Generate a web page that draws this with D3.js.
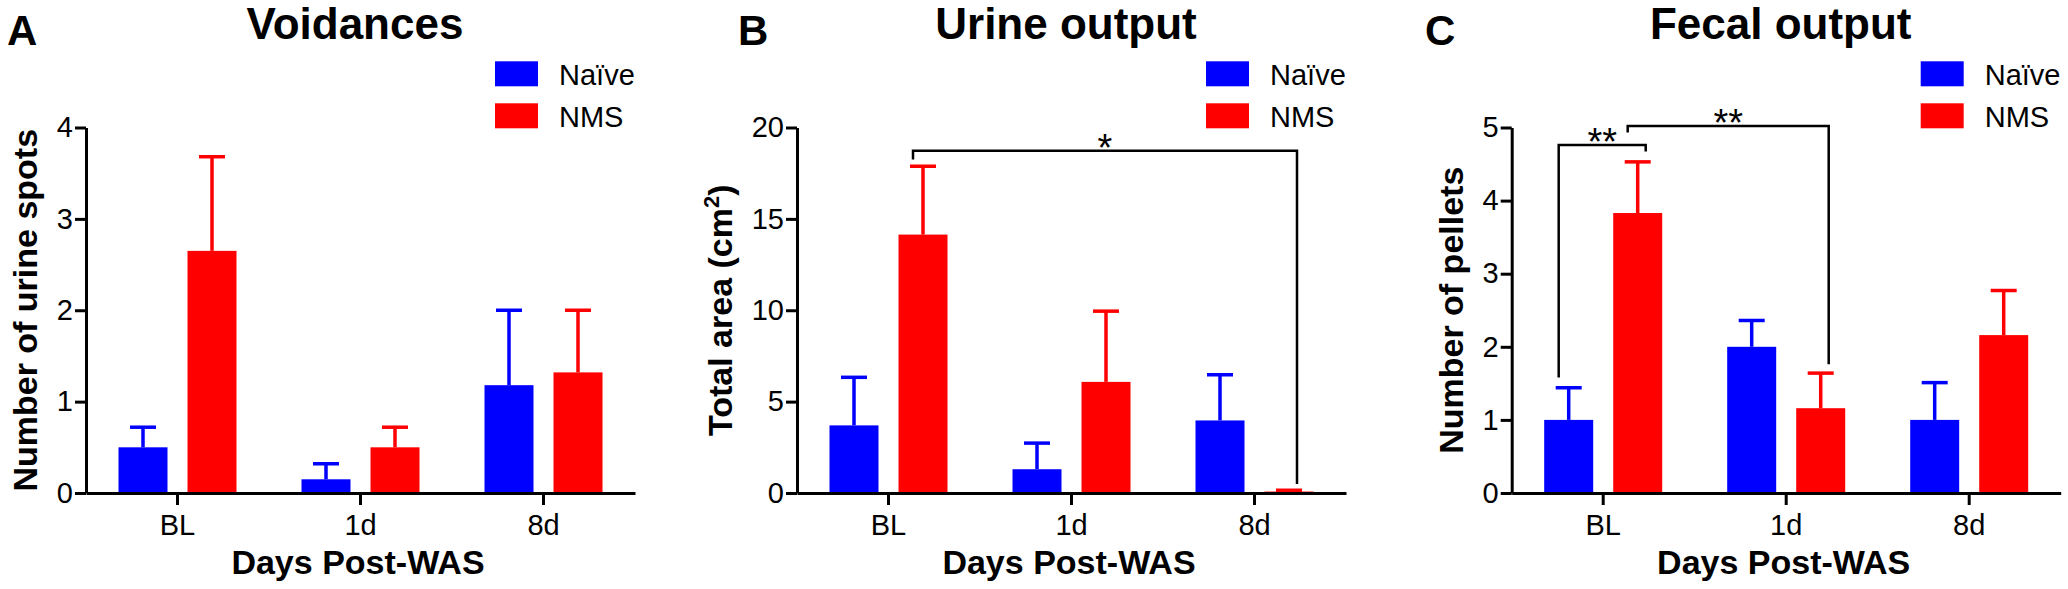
<!DOCTYPE html>
<html>
<head>
<meta charset="utf-8">
<script src="https://cdnjs.cloudflare.com/ajax/libs/d3/7.8.5/d3.min.js"></script>
<style>
  body, html {
    margin: 0;
    padding: 0;
    background: white;
    overflow: hidden;
  }
  svg {
    display: block;
    font-family: 'Liberation Sans', Arial, sans-serif;
  }
</style>
</head>
<body>
<svg id="chart" width="2068" height="589"></svg>
<script>
  const groups = ["BL", "1d", "8d"];
  const series = ["Naïve", "NMS"];
  const seriesColors = ["#0000ff", "#ff0000"];

  // A - voidances (mean and upper SEM)
  const voidNaiveMean = [0.5, 0.15, 1.18];
  const voidNaiveSem = [0.22, 0.17, 0.82];
  const voidNmsMean = [2.65, 0.5, 1.32];
  const voidNmsSem = [1.03, 0.22, 0.68];

  // B - urine output
  const urineNaiveMean = [3.7, 1.3, 3.97];
  const urineNaiveSem = [2.63, 1.43, 2.5];
  const urineNmsMean = [14.14, 6.08, 0.08];
  const urineNmsSem = [3.74, 3.87, 0.07];

  // C - fecal output
  const fecalNaiveMean = [1.0, 2.0, 1.0];
  const fecalNaiveSem = [0.44, 0.36, 0.51];
  const fecalNmsMean = [3.83, 1.16, 2.16];
  const fecalNmsSem = [0.70, 0.48, 0.61];

  const voidTicks = [0, 1, 2, 3, 4];
  const urineTicks = [0, 5, 10, 15, 20];
  const fecalTicks = [0, 1, 2, 3, 4, 5];

  const voidBrackets = [];
  const urineBrackets = [
    { from: ["BL", "NMS"], to: ["8d", "NMS"], level: 18.73, dropFrom: 18.25, dropTo: 0.49, label: "*" }
  ];
  const fecalBrackets = [
    { from: ["BL", "Naïve"], to: ["BL", "NMS"], level: 4.76, dropFrom: 1.58, dropTo: 4.67, label: "**" },
    { from: ["BL", "NMS"], to: ["1d", "NMS"], level: 5.02, dropFrom: 4.93, dropTo: 1.76, label: "**" }
  ];

  const panels = [
    { letter: "A", title: "Voidances", yLabel: ["Number of urine spots"], ticks: voidTicks,
      means: [voidNaiveMean, voidNmsMean], sems: [voidNaiveSem, voidNmsSem], brackets: voidBrackets },
    { letter: "B", title: "Urine output", yLabel: ["Total area (cm", "2", ")"], ticks: urineTicks,
      means: [urineNaiveMean, urineNmsMean], sems: [urineNaiveSem, urineNmsSem], brackets: urineBrackets },
    { letter: "C", title: "Fecal output", yLabel: ["Number of pellets"], ticks: fecalTicks,
      means: [fecalNaiveMean, fecalNmsMean], sems: [fecalNaiveSem, fecalNmsSem], brackets: fecalBrackets }
  ];

  // layout
  const panelX = [86, 797, 1511.7];
  const letterX = [7, 738, 1425];
  const plotW = 549;
  const yBottom = 493;
  const yTop = 127.5;
  const capW = 26;

  const svg = d3.select("#chart");

  panels.forEach((p, pi) => {
    const x0 = panelX[pi];
    const g = svg.append("g");

    const x = d3.scaleBand().domain(groups).range([x0, x0 + plotW]);
    const xInner = d3.scaleBand().domain(series).range([-59, 59]).paddingInner(0.29);
    const y = d3.scaleLinear().domain([0, d3.max(p.ticks)]).range([yBottom, yTop]);
    const barCenter = (grp, s) => x(grp) + x.bandwidth() / 2 + xInner(s) + xInner.bandwidth() / 2;

    // bars + error bars
    series.forEach((s, si) => {
      const rows = groups.map((grp, gi) => ({ grp, mean: p.means[si][gi], sem: p.sems[si][gi] }));
      const sg = g.append("g");
      sg.selectAll("rect")
        .data(rows)
        .join("rect")
        .attr("x", d => barCenter(d.grp, s) - xInner.bandwidth() / 2)
        .attr("width", xInner.bandwidth())
        .attr("y", d => y(d.mean))
        .attr("height", d => y(0) - y(d.mean))
        .attr("fill", seriesColors[si]);

      sg.selectAll(".err")
        .data(rows)
        .join("line")
        .attr("class", "err")
        .attr("x1", d => barCenter(d.grp, s))
        .attr("x2", d => barCenter(d.grp, s))
        .attr("y1", d => y(d.mean))
        .attr("y2", d => y(d.mean + d.sem))
        .attr("stroke", seriesColors[si])
        .attr("stroke-width", 3.5);

      sg.selectAll(".cap")
        .data(rows)
        .join("line")
        .attr("class", "cap")
        .attr("x1", d => barCenter(d.grp, s) - capW / 2)
        .attr("x2", d => barCenter(d.grp, s) + capW / 2)
        .attr("y1", d => y(d.mean + d.sem))
        .attr("y2", d => y(d.mean + d.sem))
        .attr("stroke", seriesColors[si])
        .attr("stroke-width", 3.5);
    });

    // axes
    const yAxis = g.append("g")
      .attr("transform", `translate(${x0},0)`)
      .call(d3.axisLeft(y).tickValues(p.ticks).tickFormat(d3.format("d")).tickSize(11).tickSizeOuter(0).tickPadding(2));
    const xAxis = g.append("g")
      .attr("transform", `translate(0,${yBottom})`)
      .call(d3.axisBottom(x).tickSize(12).tickSizeOuter(0).tickPadding(9));

    [yAxis, xAxis].forEach(ax => {
      ax.select(".domain").attr("stroke", "#000").attr("stroke-width", 3);
      ax.selectAll(".tick line").attr("stroke", "#000").attr("stroke-width", 3);
      ax.selectAll(".tick text").attr("fill", "#000").style("font-size", "29px")
        .style("font-family", "'Liberation Sans', Arial, sans-serif");
    });

    // y label placed left of widest tick label
    let minLeft = x0;
    yAxis.selectAll(".tick text").each(function () {
      const b = this.getBBox();
      minLeft = Math.min(minLeft, b.x + x0);
    });
    const yl = g.append("text")
      .attr("transform", `translate(${minLeft - 19.5},${(yBottom + yTop) / 2}) rotate(-90)`)
      .attr("text-anchor", "middle")
      .style("font-size", "34px")
      .style("font-weight", "bold");
    yl.append("tspan").text(p.yLabel[0]);
    if (p.yLabel.length > 1) {
      yl.append("tspan").text(p.yLabel[1]).style("font-size", "22px").attr("dy", "-13");
      yl.append("tspan").text(p.yLabel[2]).attr("dy", "13");
    }

    // x label
    g.append("text")
      .attr("x", x0 + 272)
      .attr("y", 574)
      .attr("text-anchor", "middle")
      .style("font-size", "34px")
      .style("font-weight", "bold")
      .text("Days Post-WAS");

    // title + panel letter
    g.append("text")
      .attr("x", x0 + 269)
      .attr("y", 38.5)
      .attr("text-anchor", "middle")
      .style("font-size", "44px")
      .style("font-weight", "bold")
      .text(p.title);
    g.append("text")
      .attr("x", letterX[pi])
      .attr("y", 45)
      .style("font-size", "42px")
      .style("font-weight", "bold")
      .text(p.letter);

    // legend
    const leg = g.append("g").selectAll("g")
      .data(series)
      .join("g")
      .attr("transform", (d, i) => `translate(${x0 + 409},${61.3 + i * 42})`);
    leg.append("rect")
      .attr("width", 43)
      .attr("height", 25)
      .attr("fill", (d, i) => seriesColors[i]);
    leg.append("text")
      .attr("x", 64)
      .attr("y", 23.2)
      .style("font-size", "29px")
      .text(d => d);

    // significance brackets
    p.brackets.forEach(b => {
      const xl = barCenter(b.from[0], b.from[1]) - 10;
      const xr = barCenter(b.to[0], b.to[1]) + 8;
      g.append("path")
        .attr("d", `M${xl},${y(b.dropFrom)}V${y(b.level)}H${xr}V${y(b.dropTo)}`)
        .attr("fill", "none")
        .attr("stroke", "#000")
        .attr("stroke-width", 2.5);
      g.append("text")
        .attr("x", (xl + xr) / 2)
        .attr("y", y(b.level) + 10)
        .attr("text-anchor", "middle")
        .style("font-size", "38px")
        .text(b.label);
    });
  });
</script>
</body>
</html>
